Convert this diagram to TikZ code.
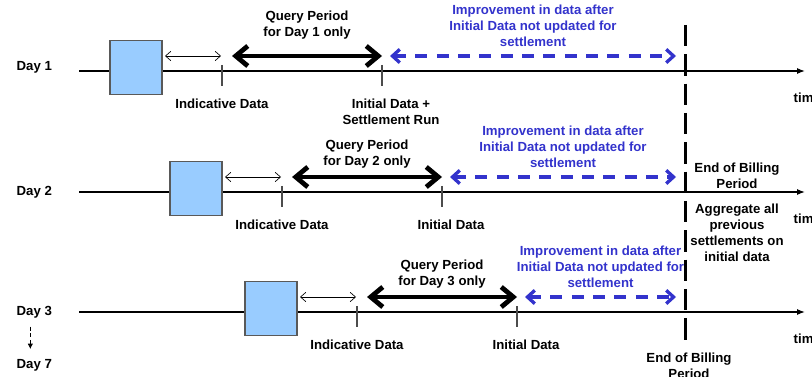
\documentclass[tikz,border=0pt]{standalone}
\usepackage{fontspec}
\setmainfont{Liberation Sans}
\usetikzlibrary{arrows.meta}

\definecolor{boxblue}{RGB}{153,204,255}
\definecolor{impblue}{RGB}{51,51,204}

\tikzset{
	txt/.style = {align = center, inner sep = 0pt},
	timeline/.style = {-{Latex[length = 6pt, width = 4.5pt]}, line width = 0.9pt},
	databox/.style = {draw = black!65, fill = boxblue, line width = 0.9pt, minimum width = 39pt, minimum height = 40pt, inner sep = 0pt},
	datatick/.style = {black!70, line width = 0.8pt},
	window/.style = {{Straight Barb[length = 4pt, width = 7pt]}-{Straight Barb[length = 4pt, width = 7pt]}, line width = 0.5pt},
	query/.style = {{Straight Barb[length = 9pt, width = 15pt]}-{Straight Barb[length = 9pt, width = 15pt]}, line width = 3.6pt},
	improve/.style = {impblue, line width = 2.5pt, dash pattern = on 9pt off 7pt, {Straight Barb[length = 5.5pt, width = 10pt]}-{Straight Barb[length = 5.5pt, width = 10pt]}},
	billing/.style = {line width = 2.25pt, dash pattern = on 16pt off 6pt}
}

\begin{document}
\begin{tikzpicture}[x = 0.75pt, y = -0.75pt, font = \fontsize{9.9}{12}\selectfont\bfseries]

	% Definitions

	\def\xaxis{79}		% left end of each timeline
	\def\xtime{805}		% right end of each timeline
	\def\xbill{685}		% end of billing period
	\def\xgap{676}		% right end of improvement arrows

	\useasboundingbox (0, 0) rectangle (812, 377);

	% Timelines: day / axis height / shift / day label offset / query label offset / initial data text

	\foreach \d / \y / \s / \l / \q / \init in {1/71/0/4/46/{Initial Data +\\Settlement Run}, 2/192/60/0/38/{Initial Data}, 3/312/135/0/38/{Initial Data}} {

		\node [anchor = west] (day\d) at (12, \y - \l) {Day \d};
		\coordinate (left\d) at (\xaxis, \y);
		\coordinate (right\d) at (\xtime, \y);
		\draw [timeline] (left\d) -- (right\d);
		\node [anchor = west] (time\d) at (789, \y + 27) {time};

		% Submission box

		\node [databox] (box\d) at (136 + \s, \y - 3.5) {};

		% Data ticks

		\coordinate (ind\d) at (222 + \s, \y);
		\coordinate (ini\d) at (382 + \s, \y);
		\draw [datatick] (ind\d) ++(0, -6) -- ++(0, 21);
		\draw [datatick] (ini\d) ++(0, -6) -- ++(0, 21);
		\node [txt, anchor = north] (indtext\d) at (222 + \s, \y + 28) {Indicative Data};
		\node [txt, anchor = north] (initext\d) at (391 + \s, \y + 28) {\init};

		% Arrows above the timeline

		\coordinate (win-a\d) at (165 + \s, \y - 15);
		\coordinate (win-b\d) at (221 + \s, \y - 15);
		\coordinate (qry-a\d) at (232 + \s, \y - 15);
		\coordinate (qry-b\d) at (382 + \s, \y - 15);
		\coordinate (imp-a\d) at (390 + \s, \y - 15);
		\coordinate (imp-b\d) at (\xgap, \y - 15);

		\draw [window] (win-a\d) -- (win-b\d);
		\draw [query] (qry-a\d) -- (qry-b\d);
		\draw [improve] (imp-a\d) -- (imp-b\d);

		\node [txt] (qrytext\d) at (307 + \s, \y - \q) {Query Period\\for Day \d\ only};
		\path (imp-a\d) -- node [txt, impblue, yshift = 22.5pt] (imptext\d) {Improvement in data after\\Initial Data not updated for\\settlement} (imp-b\d);
	}

	% Day 3 to Day 7

	\node [anchor = west] (day7) at (12, 365) {Day 7};
	\draw [-{Latex[length = 4pt, width = 4pt]}, densely dashed, line width = 0.5pt] ([xshift = -3pt, yshift = -3pt] day3.south) -- ([xshift = -3pt, yshift = 4pt] day7.north);

	% End of billing period

	\coordinate (billtop) at (\xbill, 25);
	\coordinate (billbot) at (\xbill, 344);
	\draw [billing] (billtop) -- (billbot);

	\node [txt] (bill2) at (737, 176) {End of Billing\\Period};
	\node [txt] (aggr) at (737, 233) {Aggregate all\\previous\\settlements on\\initial data};
	\node [txt] (bill3) at (689, 366) {End of Billing\\Period};

\end{tikzpicture}
\end{document}
